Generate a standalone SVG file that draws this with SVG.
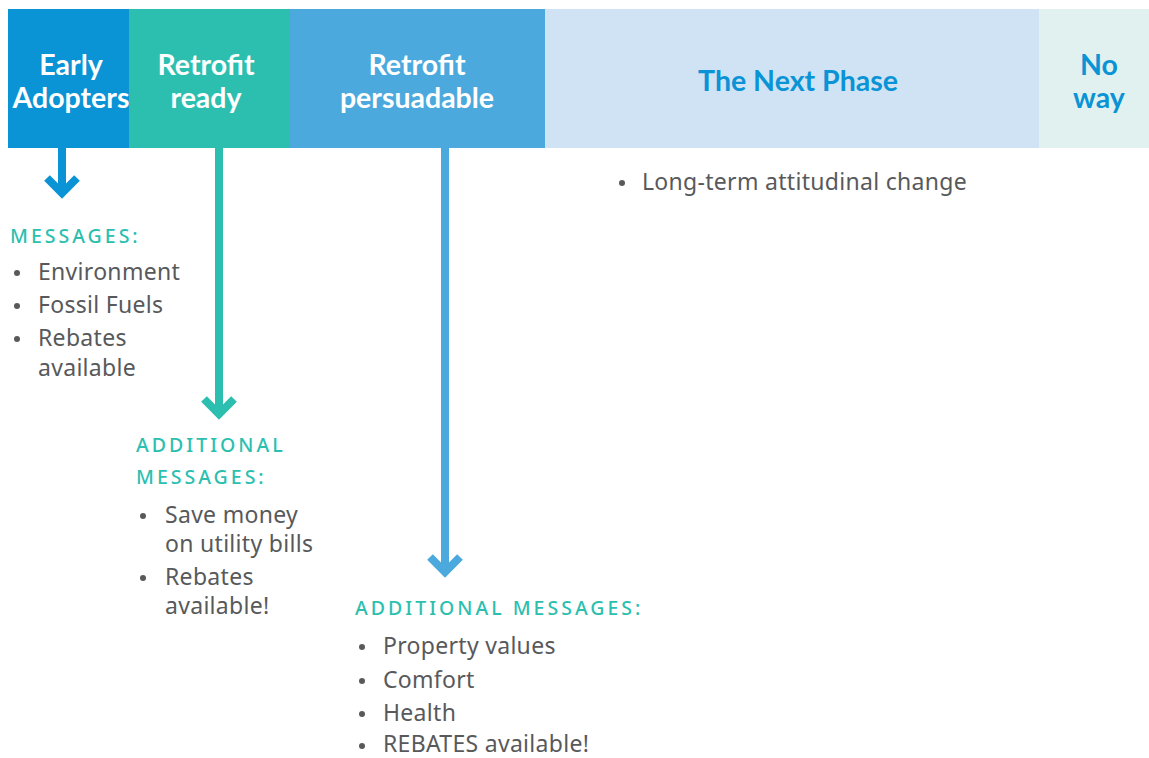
<svg xmlns="http://www.w3.org/2000/svg" width="1149" height="758" viewBox="0 0 1149 758">
<style>
.hd{font-family:Lato,"Noto Sans",sans-serif;font-weight:700;font-size:28.5px;text-anchor:middle}
.w{fill:#ffffff}
.b{fill:#0a93d5}
.lab{font-family:"Noto Sans",sans-serif;font-size:19.5px;font-weight:500;fill:#2cbfb0;letter-spacing:3px}
.t{font-family:"Noto Sans",sans-serif;font-size:23px;fill:#58595b;letter-spacing:0.3px}
.dot{fill:#58595b}
.arr{fill:none;stroke-width:8}
</style>
<rect width="1149" height="758" fill="#ffffff"/>
<g id="early-adopters">
<rect x="8" y="9" width="121" height="139" fill="#0a93d5"/>
<text class="hd w" x="71" y="75">Early</text>
<text class="hd w" x="71" y="108">Adopters</text>
</g>
<g id="retrofit-ready">
<rect x="129" y="9" width="161" height="139" fill="#2cbfb0"/>
<text class="hd w" x="206" y="75">Retrofit</text>
<text class="hd w" x="206" y="108">ready</text>
</g>
<g id="retrofit-persuadable">
<rect x="290" y="9" width="255" height="139" fill="#4ca9de"/>
<text class="hd w" x="417" y="75">Retrofit</text>
<text class="hd w" x="417" y="108">persuadable</text>
</g>
<g id="next-phase">
<rect x="545" y="9" width="494" height="139" fill="#cfe3f5"/>
<text class="hd b" x="798" y="91">The Next Phase</text>
</g>
<g id="no-way">
<rect x="1039" y="9" width="110" height="139" fill="#e1f1ef"/>
<text class="hd b" x="1099" y="75">No</text>
<text class="hd b" x="1099" y="108">way</text>
</g>
<g id="connectors">
<path class="arr" stroke="#0a93d5" d="M62 148V192M47 178L62 193L77 178"/>
<path class="arr" stroke="#2cbfb0" d="M219 148V413M204 399L219 414L234 399"/>
<path class="arr" stroke="#4ca9de" d="M445 148V571M430 557L445 572L460 557"/>
</g>
<g id="early-messages">
<text class="lab" x="10" y="243">MESSAGES:</text>
<circle class="dot" cx="17" cy="273" r="3"/>
<circle class="dot" cx="17" cy="306" r="3"/>
<circle class="dot" cx="17" cy="339" r="3"/>
<text class="t" x="38" y="280">Environment</text>
<text class="t" x="38" y="313">Fossil Fuels</text>
<text class="t" x="38" y="346">Rebates</text>
<text class="t" x="38" y="376">available</text>
</g>
<g id="ready-messages">
<text class="lab" x="136" y="452">ADDITIONAL</text>
<text class="lab" x="136" y="484">MESSAGES:</text>
<circle class="dot" cx="143" cy="516" r="3"/>
<circle class="dot" cx="143" cy="578" r="3"/>
<text class="t" x="165" y="523">Save money</text>
<text class="t" x="165" y="552">on utility bills</text>
<text class="t" x="165" y="585">Rebates</text>
<text class="t" x="165" y="614">available!</text>
</g>
<g id="persuadable-messages">
<text class="lab" x="355" y="615">ADDITIONAL MESSAGES:</text>
<circle class="dot" cx="362" cy="647" r="3"/>
<circle class="dot" cx="362" cy="681" r="3"/>
<circle class="dot" cx="362" cy="714" r="3"/>
<circle class="dot" cx="362" cy="746" r="3"/>
<text class="t" x="383" y="654">Property values</text>
<text class="t" x="383" y="688">Comfort</text>
<text class="t" x="383" y="721">Health</text>
<text class="t" x="383" y="752">REBATES available!</text>
</g>
<g id="next-phase-messages">
<circle class="dot" cx="622" cy="183" r="3"/>
<text class="t" x="642" y="190">Long-term attitudinal change</text>
</g>
</svg>
